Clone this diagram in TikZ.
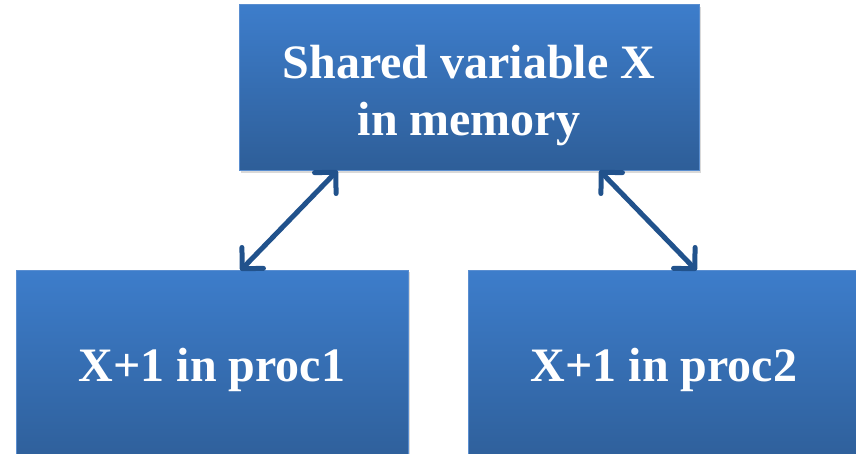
\documentclass[tikz,border=0pt]{standalone}
\usepackage{fontspec}
\setmainfont{Liberation Serif}
\usetikzlibrary{arrows.meta,calc,shadows}
\definecolor{boxtop}{HTML}{3D7DCB}
\definecolor{boxbot}{HTML}{2E5E98}
\definecolor{boxline}{HTML}{5A8ED0}
\definecolor{arrowc}{HTML}{21528C}
\tikzset{
  bluebox/.style={rectangle, draw=boxline, line width=1pt, top color=boxtop, bottom color=boxbot,
    text=white, font=\bfseries\fontsize{48}{57}\selectfont, align=center, inner sep=0pt,
    drop shadow={shadow xshift=2pt, shadow yshift=-2pt, opacity=0.25, fill=black!60}},
  link/.style={draw=arrowc, line width=5pt, line cap=round,
    {Straight Barb[length=15pt, width=30pt, line width=5pt, round]}-{Straight Barb[length=15pt, width=30pt, line width=5pt, round]}}
}
\begin{document}
\begin{tikzpicture}[x=1pt, y=-1pt]
\useasboundingbox (0,0) rectangle (856,454);
\clip (0,0) rectangle (856,454);
\node[bluebox, minimum width=460pt, minimum height=166pt, text depth=0pt] (top) at (469,88) {};
\node[text=white, font=\bfseries\fontsize{48}{57}\selectfont, align=center, inner sep=0pt] (toplabel) at (469,96) {Shared variable X\\in memory};
\node[bluebox, minimum width=392pt, minimum height=200pt] (p1) at (212,370) {X+1 in proc1};
\node[bluebox, minimum width=392pt, minimum height=200pt] (p2) at (664,370) {X+1 in proc2};
\coordinate (a1) at ($(top.south west)+(99,-1)$);
\coordinate (b1) at ($(p1.north west)+(225,1)$);
\coordinate (a2) at ($(top.south west)+(361,-1)$);
\coordinate (b2) at ($(p2.north west)+(229,1)$);
\draw[link] (a1) -- (b1);
\draw[link] (a2) -- (b2);
\end{tikzpicture}
\end{document}
